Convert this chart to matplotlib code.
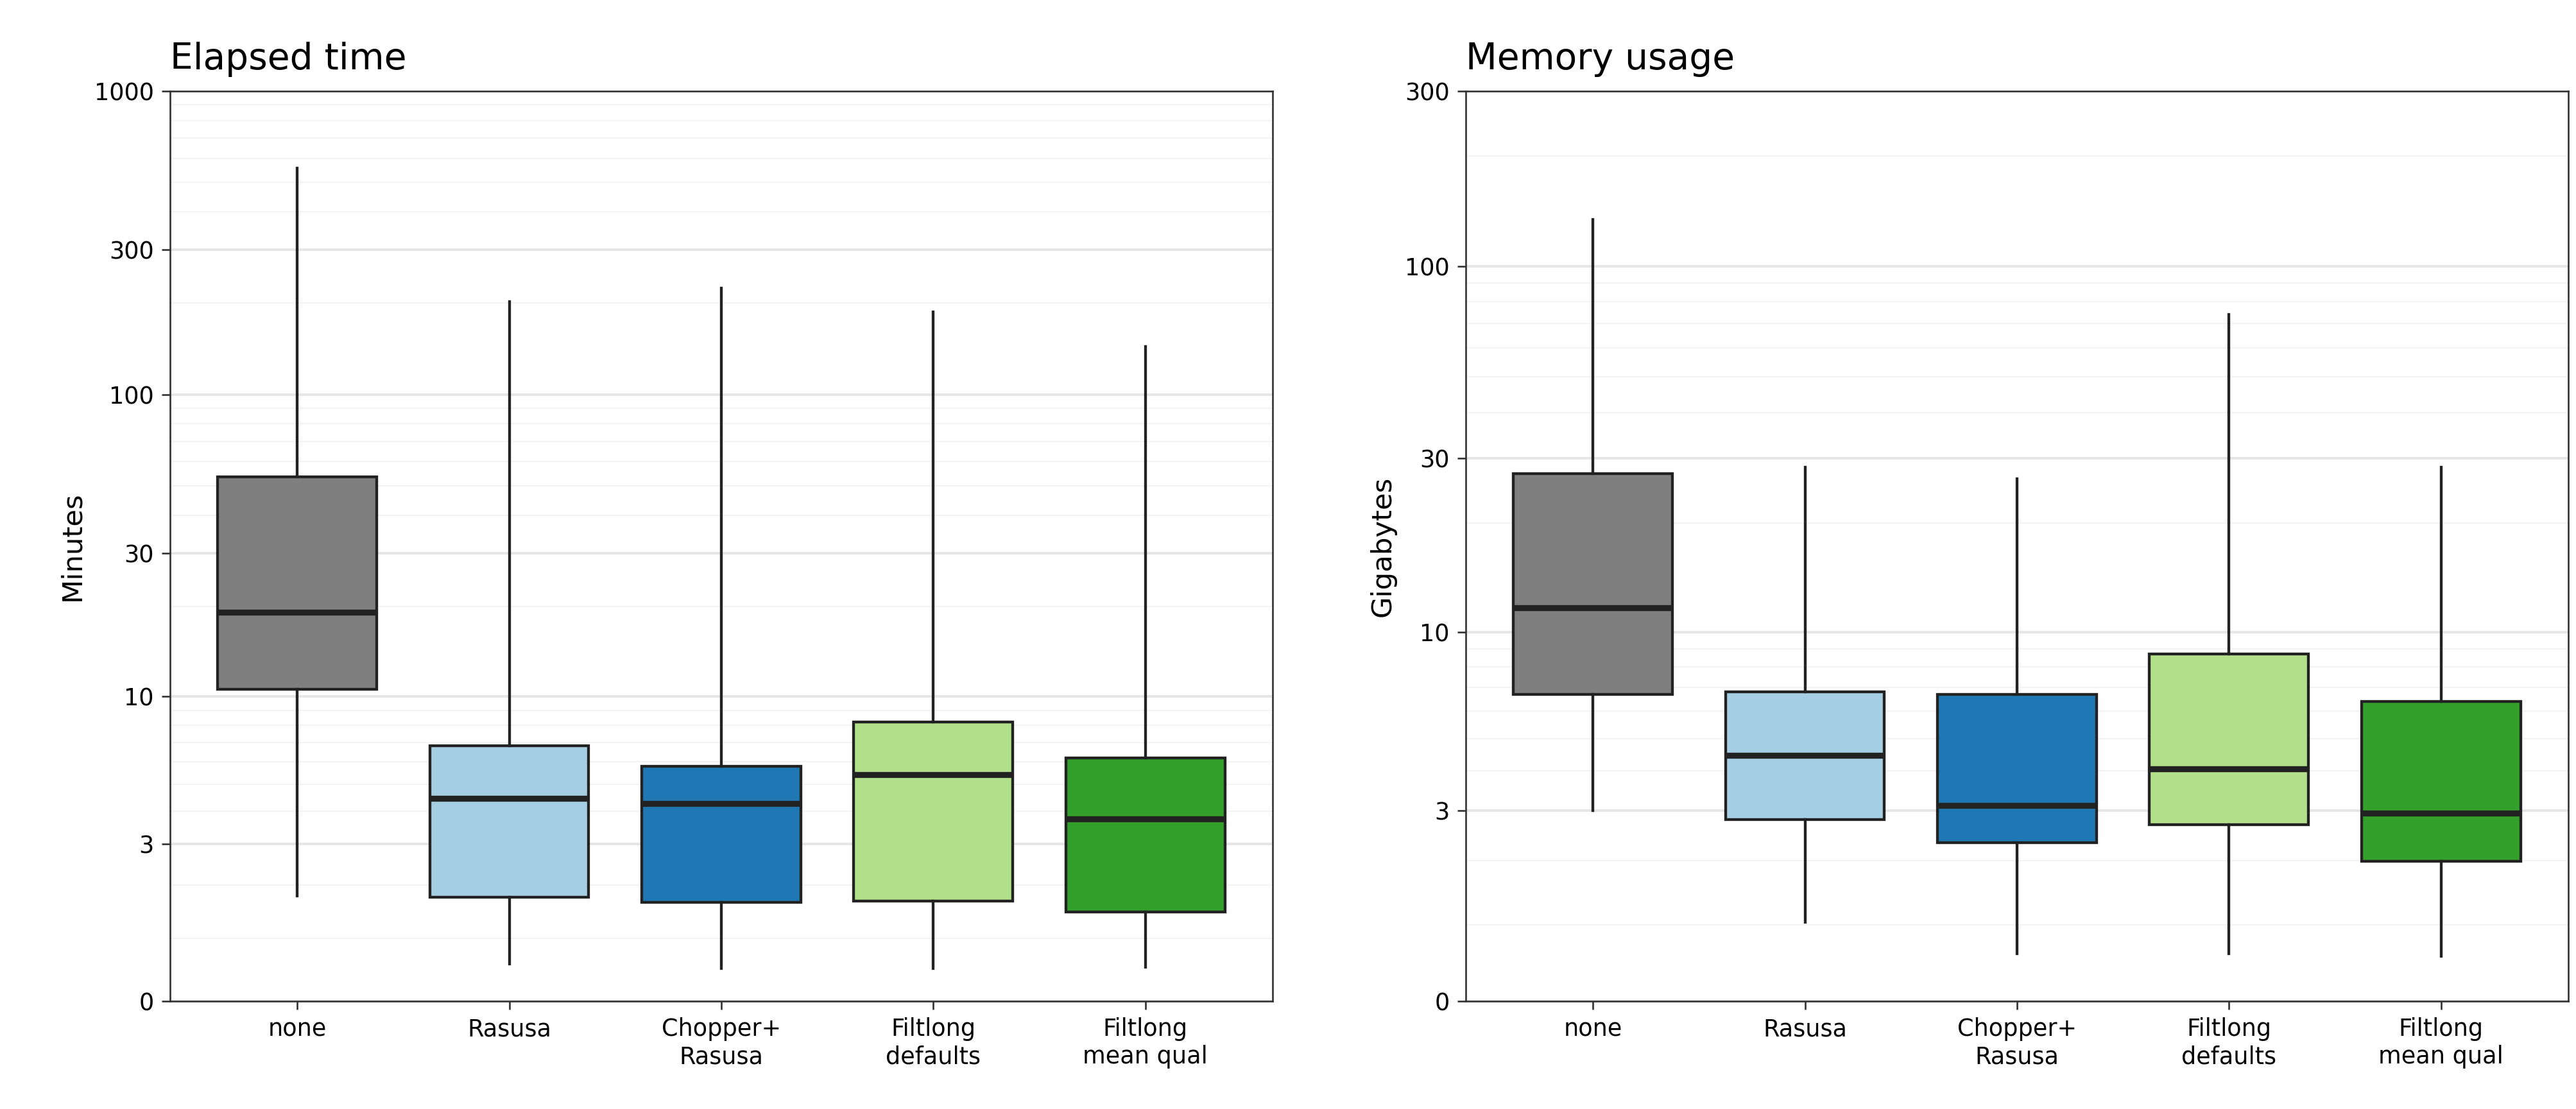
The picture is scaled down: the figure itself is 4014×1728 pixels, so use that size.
import numpy as np
import matplotlib
matplotlib.use("Agg")
import matplotlib.pyplot as plt

categories = ["none", "Rasusa", "Chopper+\nRasusa", "Filtlong\ndefaults", "Filtlong\nmean qual"]
colors = ["#7f7f7f", "#a6cee3", "#1f78b4", "#b2df8a", "#33a02c"]

# whislo, q1, med, q3, whishi
time_stats = [
    [1.78, 10.6, 19.1, 53.5, 556],
    [0.58, 1.75, 4.46, 6.8, 202],
    [0.51, 1.65, 4.26, 5.8, 224],
    [0.51, 1.68, 5.4, 8.2, 187],
    [0.53, 1.46, 3.74, 6.2, 144],
]
mem_stats = [
    [3.0, 6.7, 11.7, 27.2, 134],
    [1.03, 2.8, 4.46, 6.8, 28.4],
    [0.61, 2.33, 3.12, 6.7, 26.4],
    [0.61, 2.7, 4.06, 8.7, 74],
    [0.57, 1.99, 2.94, 6.4, 28.4],
]
time_ticks = [0, 3, 10, 30, 100, 300, 1000]
mem_ticks = [0, 3, 10, 30, 100, 300]

fwd = lambda x: np.arcsinh(np.asarray(x) / 2.0)
inv = lambda y: 2.0 * np.sinh(np.asarray(y))

fig = plt.figure(figsize=(4014 / 240, 1728 / 240), dpi=240)
axes = [fig.add_axes([0.066, 0.097, 0.428, 0.821]),
        fig.add_axes([0.569, 0.097, 0.428, 0.821])]

minor = [1, 2, 4, 5, 6, 7, 8, 9, 20, 40, 50, 60, 70, 80, 90, 200, 400, 500, 600, 700, 800, 900]

def draw(ax, stats, ticks, title, ylabel):
    bxs = [dict(whislo=s[0], q1=s[1], med=s[2], q3=s[3], whishi=s[4], fliers=[]) for s in stats]
    bp = ax.bxp(bxs, positions=range(1, 6), widths=0.75, patch_artist=True, showcaps=False,
                boxprops=dict(edgecolor="#222222", linewidth=1.3),
                whiskerprops=dict(color="#222222", linewidth=1.3),
                medianprops=dict(color="#222222", linewidth=2.8))
    for p, c in zip(bp["boxes"], colors):
        p.set_facecolor(c)
    ax.set_yscale("function", functions=(fwd, inv))
    ax.set_ylim(0, ticks[-1])
    ax.set_xlim(0.4, 5.6)
    ax.set_yticks(ticks)
    ax.set_yticklabels([str(t) for t in ticks])
    ax.set_yticks([m for m in minor if m < ticks[-1]], minor=True)
    ax.tick_params(axis="y", which="minor", length=0)
    ax.grid(axis="y", which="major", color="#e6e6e6", linewidth=1.2)
    ax.grid(axis="y", which="minor", color="#f3f3f3", linewidth=0.6)
    ax.set_axisbelow(True)
    ax.set_xticks(range(1, 6))
    ax.set_xticklabels(categories)
    ax.tick_params(labelsize=11, length=4, color="#333333")
    for s in ax.spines.values():
        s.set_color("#333333")
    ax.set_ylabel(ylabel, fontsize=13)
    ax.set_title(title, fontsize=17, loc="left", x=0.0, pad=10)

draw(axes[0], time_stats, time_ticks, "Elapsed time", "Minutes")
draw(axes[1], mem_stats, mem_ticks, "Memory usage", "Gigabytes")
axes[0].set_title("Elapsed time", fontsize=17, loc="left", x=0.0, pad=10)
fig.savefig("out.png", dpi=240)
